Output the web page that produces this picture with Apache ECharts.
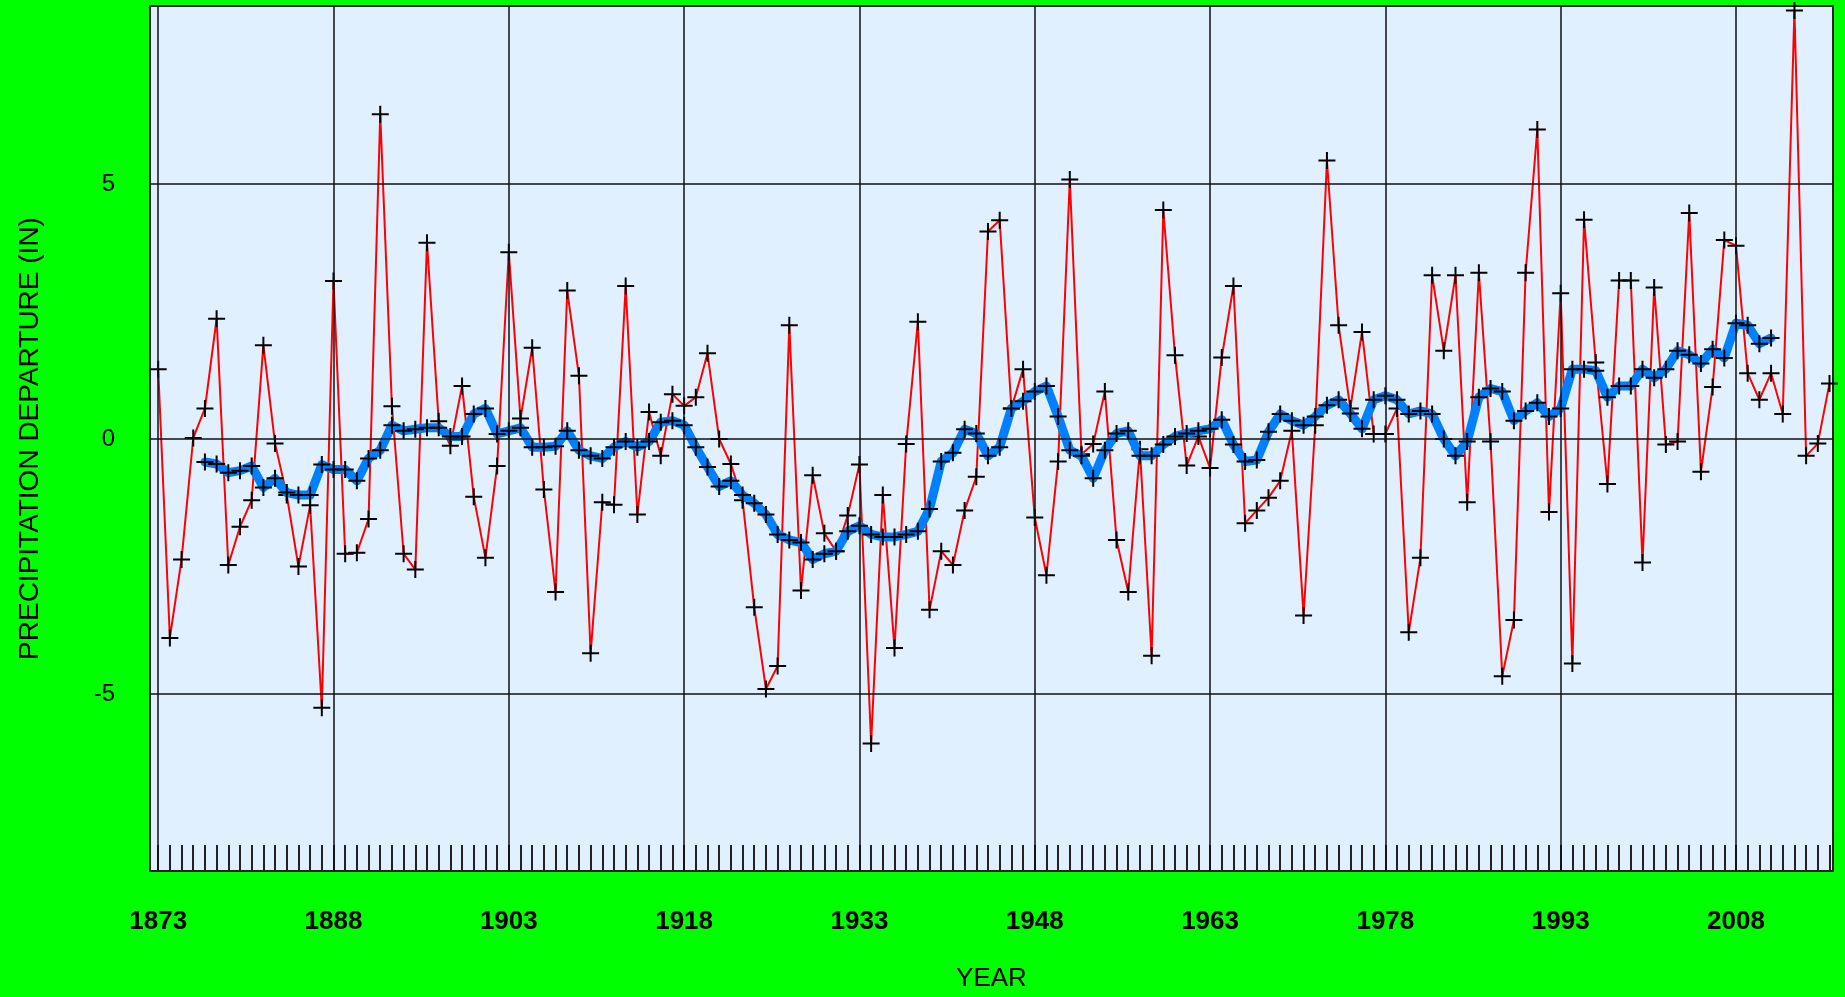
<!DOCTYPE html>
<html>
<head>
<meta charset="utf-8">
<title>Precipitation departure</title>
<script src="https://cdn.jsdelivr.net/npm/echarts@6.0.0/dist/echarts.min.js"></script>
<style>
html, body { margin: 0; padding: 0; background: #00ff00; }
#chart { width: 1845px; height: 997px; }
</style>
</head>
<body>
<div id="chart"></div>
<script>
// annual departures, 1873 .. 2016 (in)
const firstYear = 1873;
const annual = [
  1.37, -3.9, -2.36, 0.02, 0.6, 2.36, -2.47, -1.72, -1.2, 1.84,
  -0.09, -1.1, -2.5, -1.3, -5.27, 3.1, -2.25, -2.23, -1.57, 6.37,
  0.64, -2.25, -2.56, 3.85, 0.35, -0.13, 1.04, -1.13, -2.33, -0.53,
  3.66, 0.4, 1.79, -0.99, -3.0, 2.91, 1.24, -4.2, -1.24, -1.29,
  3.0, -1.48, 0.53, -0.33, 0.88, 0.65, 0.82, 1.68, 0.0, -0.49,
  -1.2, -3.3, -4.9, -4.45, 2.23, -2.97, -0.71, -1.85, -2.2, -1.5,
  -0.5, -5.97, -1.1, -4.1, -0.1, 2.3, -3.35, -2.2, -2.47, -1.4,
  -0.74, 4.07, 4.29, 0.6, 1.37, -1.54, -2.67, -0.44, 5.09, -0.3,
  -0.1, 0.93, -1.98, -3.0, -0.2, -4.25, 4.49, 1.64, -0.52, 0.05,
  -0.57, 1.6, 3.0, -1.65, -1.4, -1.15, -0.82, 0.16, -3.46, 0.27,
  5.46, 2.23, 0.6, 2.1, 0.1, 0.1, 0.6, -3.79, -2.33, 3.21,
  1.73, 3.21, -1.24, 3.26, -0.05, -4.65, -3.55, 3.26, 6.07, -1.43,
  2.86, -4.4, 4.3, 1.5, -0.88, 3.11, 3.11, -2.42, 2.97, -0.11,
  -0.05, 4.43, -0.64, 1.02, 3.9, 3.79, 1.29, 0.77, 1.29, 0.49,
  8.4, -0.33, -0.09, 1.09
];
// running mean, 1877 .. 2011
const meanStart = 1877;
const runningMean = [
  -0.45, -0.49, -0.66, -0.62, -0.53, -0.95, -0.77, -1.05, -1.1, -1.1,
  -0.5, -0.6, -0.6, -0.82, -0.38, -0.22, 0.27, 0.16, 0.19, 0.22,
  0.22, 0.05, 0.05, 0.49, 0.6, 0.1, 0.16, 0.22, -0.16, -0.16,
  -0.14, 0.16, -0.22, -0.33, -0.38, -0.16, -0.05, -0.16, -0.05, 0.33,
  0.36, 0.27, -0.16, -0.55, -0.93, -0.82, -1.1, -1.26, -1.48, -1.87,
  -1.98, -2.03, -2.36, -2.25, -2.2, -1.81, -1.7, -1.87, -1.92, -1.92,
  -1.87, -1.81, -1.37, -0.44, -0.27, 0.19, 0.11, -0.33, -0.16, 0.6,
  0.74, 0.93, 1.04, 0.44, -0.22, -0.33, -0.77, -0.22, 0.11, 0.16,
  -0.33, -0.33, -0.11, 0.05, 0.11, 0.16, 0.2, 0.38, -0.11, -0.44,
  -0.41, 0.14, 0.49, 0.36, 0.27, 0.44, 0.66, 0.77, 0.5, 0.2,
  0.77, 0.85, 0.77, 0.49, 0.55, 0.49, 0.0, -0.33, -0.05, 0.82,
  0.99, 0.93, 0.36, 0.55, 0.71, 0.44, 0.6, 1.37, 1.37, 1.34,
  0.82, 1.04, 1.04, 1.37, 1.2, 1.37, 1.73, 1.65, 1.48, 1.76,
  1.59, 2.27, 2.23, 1.87, 1.98
];
// labelled years (vertical grid lines) and y grid values
const labelYears = [1873, 1888, 1903, 1918, 1933, 1948, 1963, 1978, 1993, 2008];
const yLabels = [-5, 0, 5];

const tickYears = [];
const annualData = [];
annual.forEach((v, i) => {
  tickYears.push(firstYear + i);
  annualData.push([firstYear + i, v]);
});
const meanData = runningMean.map((v, i) => [meanStart + i, v]);

const font = '"Liberation Sans", Arial, sans-serif';
// "+" marker
const plus = 'path://M0,7.5H17V9.5H0Z M7.5,0H9.5V17H7.5Z';

const chart = echarts.init(document.getElementById('chart'));
chart.setOption({
  animation: false,
  backgroundColor: '#00ff00',
  grid: {
    left: 150, right: 12, top: 6, bottom: 126,
    show: true,
    backgroundColor: '#e0f0ff',
    borderColor: '#222',
    borderWidth: 2
  },
  xAxis: {
    type: 'value',
    min: 1872.3,
    max: 2016.3,
    name: 'YEAR',
    nameLocation: 'middle',
    nameGap: 95,
    nameTextStyle: { fontFamily: font, fontSize: 26, color: '#000' },
    axisLine: { show: true, onZero: false, lineStyle: { color: '#222', width: 2 } },
    axisTick: {
      show: true, inside: true, length: 26,
      customValues: tickYears,
      lineStyle: { color: '#222', width: 2 }
    },
    axisLabel: {
      customValues: labelYears,
      formatter: v => String(v),
      margin: 38,
      fontFamily: font, fontSize: 26, fontWeight: 'bold', color: '#000'
    },
    splitLine: { show: false }
  },
  yAxis: {
    type: 'value',
    min: -8.47,
    max: 8.49,
    name: 'PRECIPITATION DEPARTURE (IN)',
    nameLocation: 'middle',
    nameRotate: 90,
    nameGap: 106,
    nameTextStyle: { fontFamily: font, fontSize: 28, color: '#000' },
    axisLine: { show: false },
    axisTick: { show: false },
    axisLabel: {
      customValues: yLabels,
      margin: 35,
      fontFamily: font, fontSize: 24, color: '#000'
    },
    splitLine: { show: false }
  },
  series: [
    {
      // grid lines
      type: 'line',
      data: [],
      z: 1,
      silent: true,
      markLine: {
        silent: true,
        symbol: 'none',
        label: { show: false },
        lineStyle: { color: '#111', width: 1.5, type: 'solid' },
        emphasis: { disabled: true },
        data: labelYears.map(y => ({ xAxis: y })).concat(yLabels.map(v => ({ yAxis: v })))
      }
    },
    {
      name: 'annual',
      type: 'line',
      data: annualData,
      z: 2,
      symbol: plus,
      symbolSize: 17,
      itemStyle: { color: '#000' },
      lineStyle: { color: '#ff0000', width: 2 },
      emphasis: { disabled: true }
    },
    {
      name: 'mean',
      type: 'line',
      data: meanData,
      z: 3,
      symbol: plus,
      symbolSize: 17,
      itemStyle: { color: '#000' },
      lineStyle: { color: '#0080ff', width: 9, cap: 'round', join: 'round' },
      emphasis: { disabled: true }
    }
  ]
});
</script>
</body>
</html>
